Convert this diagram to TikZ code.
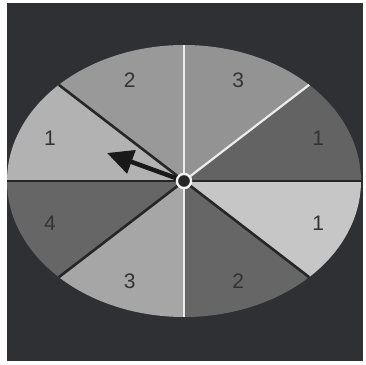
\documentclass[tikz,border=0pt]{standalone}
\usepackage{fontspec}
\setmainfont{Liberation Sans}
\usepackage{tikz}
\usetikzlibrary{arrows.meta}
\definecolor{boardbg}{HTML}{2E3034}
\definecolor{digitgray}{HTML}{333333}

\begin{document}
\begin{tikzpicture}[
    x=1pt, y=1pt,
    font=\fontsize{21}{21}\selectfont,
    label/.style={text=digitgray, inner sep=0pt},
    sepdark/.style={draw=black!85, line width=2.6pt},
    seplight/.style={draw=white!85!gray, line width=2.2pt},
    pointer/.style={-{Triangle[length=26pt,width=24pt]}, line width=4.5pt, draw=black!90},
    hubring/.style={circle, fill=black!85, draw=white!90!gray, line width=2.2pt,
      minimum size=14pt, inner sep=0pt}
  ]
    \useasboundingbox (-184,-183) rectangle (182,181);
    \fill[white] (-184,-183) rectangle (182,181);
    \fill[boardbg] (-177,-180) rectangle (179,178);

    % the eight sectors
    \foreach \a/\col in {0/gray!100!white!78!black, 45/gray!85!white, 90/gray!80!white,
                         135/gray!60!white, 180/gray!80!black, 225/gray!70!white,
                         270/gray!80!black, 315/gray!45!white}
      \fill[\col] (0,0) -- (\a:177 and 136)
        arc[start angle=\a, end angle=\a+45, x radius=177, y radius=136] -- cycle;

    % separators
    \draw[seplight] (0,0) -- (90:177 and 136);
    \draw[seplight] (0,0) -- (270:177 and 136);
    \draw[seplight] (0,0) -- (45:177 and 136);
    \draw[sepdark] (0,0) -- (0:177 and 136);
    \draw[sepdark] (0,0) -- (180:177 and 136);
    \draw[sepdark] (0,0) -- (135:177 and 136);
    \draw[sepdark] (0,0) -- (225:177 and 136);
    \draw[sepdark] (0,0) -- (315:177 and 136);

    % numbers
    \node[label] (n1) at (22.5:0.82*177 and 0.82*136) {1};
    \node[label] (n2) at (67.5:0.8*177 and 0.8*136) {3};
    \node[label] (n3) at (112.5:0.8*177 and 0.8*136) {2};
    \node[label] (n4) at (157.5:0.82*177 and 0.82*136) {1};
    \node[label] (n5) at (202.5:0.82*177 and 0.82*136) {4};
    \node[label] (n6) at (247.5:0.8*177 and 0.8*136) {3};
    \node[label] (n7) at (292.5:0.8*177 and 0.8*136) {2};
    \node[label] (n8) at (337.5:0.82*177 and 0.82*136) {1};

    % spinner
    \coordinate (tip) at (-77,28);
    \node[hubring] (hub) at (0,0) {};
    \draw[pointer] (hub) -- (tip);
    \node[hubring] at (0,0) {};
  \end{tikzpicture}
\end{document}
